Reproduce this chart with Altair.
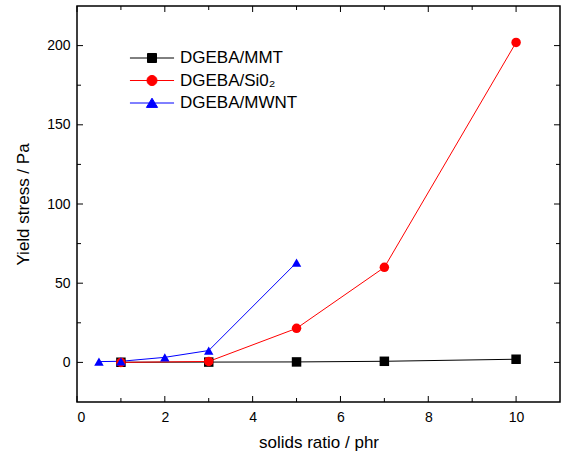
import altair as alt
import pandas as pd

series_names = ["DGEBA/MMT", "DGEBA/Si0₂", "DGEBA/MWNT"]
series_colors = ["#000000", "#ff0000", "#0000ff"]
series_shapes = ["square", "circle", "triangle-up"]

mmt_x = [1, 3, 5, 7, 10]
mmt_y = [0.1, 0.2, 0.3, 0.7, 2.0]
si_x = [1, 3, 5, 7, 10]
si_y = [0.0, 0.6, 21.5, 60.0, 202.0]
mwnt_x = [0.5, 1, 2, 3, 5]
mwnt_y = [0.5, 0.7, 3.2, 7.5, 63.0]

x_major = [0, 2, 4, 6, 8, 10]
x_minor = [1, 3, 5, 7, 9]
y_major = [0, 50, 100, 150, 200]
y_minor = [25, 75, 125, 175]

rows = []
for name, xs_, ys_ in zip(series_names, [mmt_x, si_x, mwnt_x], [mmt_y, si_y, mwnt_y]):
    for i, (a, b) in enumerate(zip(xs_, ys_)):
        rows.append({"series": name, "x": a, "y": b, "i": i})
df = pd.DataFrame(rows)

W, H = 483, 396
FONT = "Liberation Sans"

xs = alt.Scale(domain=[0, 11], nice=False, zero=False)
ys = alt.Scale(domain=[-25, 225], nice=False, zero=False)
cs = alt.Scale(domain=series_names, range=series_colors)

x_axis = alt.Axis(values=x_major, tickSize=0, grid=False, domain=False,
                  labelFontSize=14, labelPadding=8, labelFont=FONT, labelColor="#000",
                  title="solids ratio / phr", titleFont=FONT, titleFontSize=17,
                  titleFontWeight="normal", titlePadding=10, titleColor="#000")
y_axis = alt.Axis(values=y_major, tickSize=0, grid=False, domain=False,
                  labelFontSize=14, labelPadding=7, labelFont=FONT, labelColor="#000",
                  title="Yield stress / Pa", titleFont=FONT, titleFontSize=17,
                  titleFontWeight="normal", titlePadding=14, titleColor="#000")

X = lambda f: alt.X(f, scale=xs, axis=x_axis, title="solids ratio / phr")
Y = lambda f: alt.Y(f, scale=ys, axis=y_axis, title="Yield stress / Pa")

legend_paths = [
    "M-2.1,0H2.1M-0.43,-0.43H0.43V0.43H-0.43Z",
    "M-2.1,0H2.1M-0.48,0A0.48,0.48 0 1,0 0.48,0A0.48,0.48 0 1,0 -0.48,0Z",
    "M-2.1,0H2.1M0,-0.46L0.53,0.42H-0.53Z",
]

base = alt.Chart(df)

lines = base.mark_line(strokeWidth=1).encode(
    x=X("x:Q"), y=Y("y:Q"),
    color=alt.Color("series:N", scale=cs, legend=None),
    detail="series:N",
    order="i:Q",
)

points = base.mark_point(filled=True, opacity=1, size=90).encode(
    x=X("x:Q"), y=Y("y:Q"),
    color=alt.Color("series:N", scale=cs, legend=None),
    shape=alt.Shape("series:N", scale=alt.Scale(domain=series_names, range=series_shapes), legend=None),
)

legend_layer = base.transform_filter("false").mark_point(filled=False, opacity=1, strokeWidth=1).encode(
    x=X("x:Q"), y=Y("y:Q"),
    color=alt.Color("series:N", scale=cs,
                    legend=alt.Legend(title=None, orient="none", legendX=64, legendY=41,
                                      direction="vertical", symbolSize=441, symbolStrokeWidth=1,
                                      labelFont=FONT, labelFontSize=17, labelColor="#000",
                                      labelOffset=17, rowPadding=3.5, padding=0)),
    fill=alt.Fill("series:N", scale=cs, legend=None),
    shape=alt.Shape("series:N", scale=alt.Scale(domain=series_names, range=legend_paths), legend=None),
)

def xticks(vals, L, top):
    d = pd.DataFrame({"v": vals})
    if top:
        return alt.Chart(d).mark_rule(color="#000", strokeWidth=1).encode(
            x=X("v:Q"), y=alt.value(0), y2=alt.value(L))
    return alt.Chart(d).mark_rule(color="#000", strokeWidth=1).encode(
        x=X("v:Q"), y=alt.value(H), y2=alt.value(H - L))

def yticks(vals, L, right):
    d = pd.DataFrame({"v": vals})
    if right:
        return alt.Chart(d).mark_rule(color="#000", strokeWidth=1).encode(
            y=Y("v:Q"), x=alt.value(W), x2=alt.value(W - L))
    return alt.Chart(d).mark_rule(color="#000", strokeWidth=1).encode(
        y=Y("v:Q"), x=alt.value(0), x2=alt.value(L))

ticks = [xticks(x_major, 6, False), xticks(x_minor, 4, False), xticks(x_major, 6, True), xticks(x_minor, 4, True),
         yticks(y_major, 6, False), yticks(y_minor, 4, False), yticks(y_major, 6, True), yticks(y_minor, 4, True)]

chart = alt.layer(lines, points, legend_layer, *ticks).resolve_scale(
    color="independent", shape="independent", fill="independent"
).properties(
    width=W, height=H,
    autosize=alt.AutoSizeParams(type="none"),
    padding={"left": 77, "top": 6, "right": 1, "bottom": 57},
    background="white",
).configure_view(stroke="#000", strokeWidth=1.5)

chart.save("out.html", embed_options={"renderer": "svg", "actions": False})
